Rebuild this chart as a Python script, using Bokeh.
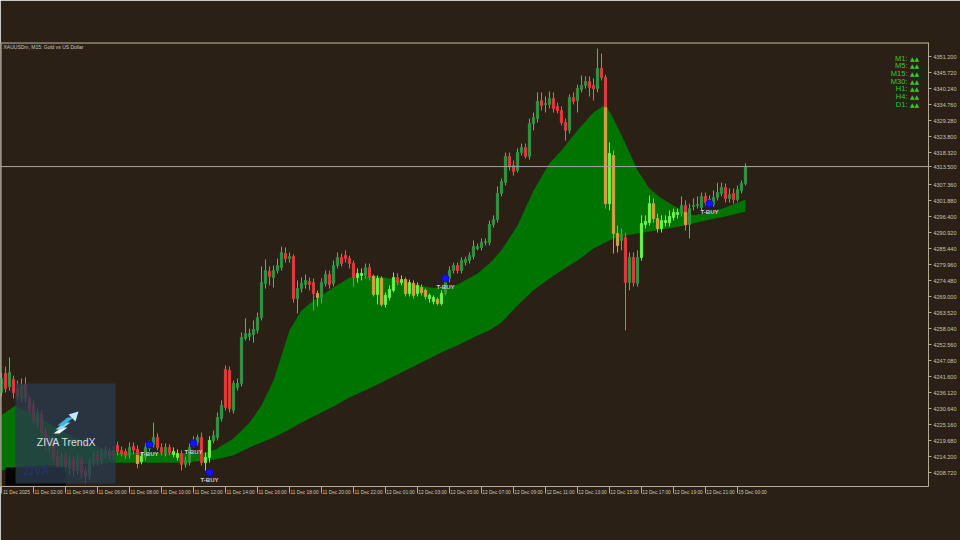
import numpy as np
from bokeh.plotting import figure
from bokeh.models import (ColumnDataSource, Range1d, LinearAxis, FixedTicker,
                          Span, Label, PrintfTickFormatter)
from bokeh.embed import file_html
from bokeh.resources import INLINE
from bokeh.core.properties import value

# ---------------- data ----------------
opens = [4236.1, 4242.6, 4238.2, 4240.6, 4237.5, 4234.1, 4238.9, 4234.1, 4231.7, 4225.8,
         4228.6, 4222.4, 4216.9, 4219.7, 4214.2, 4210.8, 4214.2, 4210.1, 4212.8, 4209.4,
         4213.5, 4209.4, 4207.4, 4212.1, 4214.6, 4212.8, 4214.9, 4215.9, 4214.2, 4218.0,
         4216.3, 4215.9, 4214.6, 4217.6, 4216.6, 4212.5, 4213.9, 4216.9, 4218.3, 4220.7,
         4217.3, 4215.2, 4217.3, 4214.9, 4213.9, 4215.2, 4211.5, 4212.1, 4218.3, 4219.0,
         4220.7, 4212.1, 4213.9, 4219.7, 4220.7, 4227.2, 4244.0, 4243.7, 4230.0, 4237.8,
         4239.2, 4254.6, 4255.3, 4256.0, 4257.4, 4261.8, 4273.5, 4277.6, 4275.5, 4277.9,
         4278.9, 4283.7, 4282.0, 4282.7, 4268.3, 4271.7, 4273.1, 4274.1, 4273.8, 4270.0,
         4268.7, 4273.5, 4276.5, 4273.5, 4279.6, 4282.4, 4283.0, 4282.0, 4280.3, 4275.5,
         4276.2, 4276.2, 4278.9, 4275.9, 4269.7, 4275.2, 4266.3, 4268.7, 4271.1, 4275.5,
         4273.8, 4274.8, 4270.0, 4273.5, 4270.0, 4272.1, 4271.1, 4268.3, 4267.3, 4268.0,
         4266.6, 4270.0, 4275.2, 4277.9, 4279.6, 4277.9, 4280.6, 4281.3, 4282.7, 4285.4,
         4285.8, 4287.5, 4287.5, 4293.7, 4295.4, 4304.3, 4308.0, 4317.0, 4313.9, 4312.2,
         4318.3, 4320.0, 4317.0, 4328.2, 4329.9, 4336.1, 4334.8, 4334.8, 4336.8, 4334.1,
         4332.7, 4328.6, 4325.9, 4337.2, 4336.1, 4339.9, 4341.3, 4342.6, 4341.3, 4340.2,
         4347.1, 4344.0, 4300.8, 4317.3, 4290.6, 4288.2, 4289.2, 4273.8, 4282.4, 4273.5,
         4282.4, 4293.7, 4294.3, 4300.8, 4295.7, 4292.3, 4294.3, 4294.3, 4296.1, 4297.1,
         4297.4, 4300.2, 4293.7, 4299.8, 4300.2, 4299.5, 4303.3, 4301.2, 4300.5, 4302.9,
         4304.3, 4306.3, 4302.6, 4304.3, 4302.2, 4305.3, 4307.7]
highs = [4243.0, 4245.0, 4248.1, 4241.9, 4240.2, 4240.9, 4241.3, 4235.1, 4233.4, 4230.6,
         4230.0, 4223.8, 4221.1, 4221.1, 4216.3, 4215.6, 4215.6, 4214.6, 4214.2, 4214.9,
         4214.6, 4210.8, 4213.5, 4216.3, 4216.3, 4216.9, 4217.6, 4217.3, 4217.6, 4219.3,
         4217.6, 4216.9, 4219.0, 4219.0, 4218.0, 4215.6, 4218.7, 4219.7, 4225.8, 4222.1,
         4218.7, 4218.7, 4218.3, 4217.3, 4216.6, 4216.3, 4214.2, 4218.7, 4221.1, 4221.7,
         4222.4, 4215.6, 4221.1, 4223.1, 4229.3, 4233.4, 4245.4, 4245.0, 4240.2, 4240.9,
         4256.7, 4261.5, 4258.0, 4260.8, 4263.5, 4279.3, 4281.7, 4279.3, 4279.6, 4282.0,
         4286.1, 4285.8, 4284.1, 4283.4, 4274.5, 4275.5, 4276.5, 4275.5, 4275.2, 4271.1,
         4275.2, 4277.9, 4277.9, 4281.3, 4284.1, 4283.7, 4284.8, 4283.0, 4281.3, 4278.6,
         4278.6, 4280.3, 4280.3, 4276.5, 4276.2, 4275.9, 4270.4, 4272.8, 4277.2, 4276.9,
         4276.2, 4275.5, 4274.8, 4274.5, 4273.8, 4273.1, 4271.7, 4270.0, 4269.4, 4268.7,
         4271.1, 4276.2, 4279.3, 4280.6, 4280.6, 4282.4, 4282.7, 4284.1, 4288.2, 4287.1,
         4288.9, 4288.9, 4295.0, 4296.8, 4306.7, 4309.4, 4318.3, 4318.3, 4315.6, 4319.7,
         4321.4, 4321.4, 4329.9, 4332.0, 4338.9, 4338.9, 4337.5, 4339.2, 4338.9, 4335.4,
         4334.1, 4329.9, 4338.2, 4338.9, 4341.6, 4344.7, 4344.4, 4344.4, 4343.7, 4353.9,
         4352.2, 4345.0, 4321.8, 4319.0, 4293.3, 4292.3, 4290.6, 4284.1, 4284.1, 4284.8,
         4296.8, 4296.8, 4303.6, 4302.6, 4297.4, 4296.8, 4296.8, 4298.5, 4299.1, 4299.1,
         4303.3, 4301.9, 4300.8, 4302.6, 4303.3, 4304.6, 4304.6, 4303.6, 4305.3, 4308.0,
         4308.0, 4307.7, 4306.0, 4306.0, 4307.0, 4308.7, 4314.6]
lows = [4234.8, 4236.1, 4236.8, 4234.1, 4233.4, 4232.7, 4232.7, 4228.6, 4225.2, 4223.8,
        4221.1, 4216.3, 4215.6, 4212.1, 4209.4, 4209.4, 4208.7, 4208.0, 4207.4, 4208.0,
        4206.7, 4205.0, 4206.0, 4210.8, 4211.1, 4211.5, 4213.5, 4213.2, 4212.8, 4214.6,
        4214.2, 4213.5, 4213.5, 4214.9, 4210.1, 4211.5, 4212.8, 4215.9, 4217.3, 4216.3,
        4214.6, 4214.2, 4214.6, 4213.9, 4212.8, 4209.4, 4210.4, 4211.1, 4217.3, 4218.0,
        4211.1, 4209.4, 4212.1, 4218.7, 4219.7, 4226.2, 4230.0, 4229.3, 4228.9, 4236.8,
        4238.2, 4253.9, 4253.9, 4253.2, 4256.3, 4260.8, 4271.7, 4272.8, 4272.1, 4276.9,
        4277.9, 4280.6, 4280.6, 4266.9, 4263.2, 4270.4, 4271.7, 4271.1, 4264.2, 4265.6,
        4266.6, 4272.4, 4271.7, 4272.4, 4278.6, 4279.3, 4280.6, 4278.6, 4272.4, 4273.8,
        4274.5, 4275.2, 4274.5, 4269.0, 4266.3, 4265.6, 4265.2, 4267.6, 4270.4, 4272.8,
        4272.8, 4269.0, 4269.0, 4268.3, 4269.0, 4269.4, 4268.0, 4266.9, 4266.3, 4265.9,
        4265.9, 4269.4, 4273.8, 4276.9, 4276.9, 4276.9, 4279.6, 4280.3, 4281.7, 4284.8,
        4284.8, 4286.5, 4286.5, 4292.6, 4294.3, 4303.3, 4307.0, 4312.2, 4310.4, 4311.5,
        4317.3, 4316.3, 4315.9, 4325.9, 4328.6, 4332.7, 4332.0, 4333.4, 4332.0, 4331.7,
        4327.6, 4322.4, 4324.8, 4334.8, 4332.0, 4338.9, 4340.2, 4337.5, 4336.1, 4338.9,
        4343.0, 4299.1, 4298.5, 4283.7, 4284.1, 4284.8, 4257.4, 4271.1, 4272.4, 4272.4,
        4281.3, 4292.3, 4293.3, 4294.3, 4290.9, 4290.9, 4293.0, 4293.0, 4295.0, 4295.7,
        4296.4, 4291.6, 4288.9, 4298.5, 4299.1, 4298.5, 4300.2, 4300.5, 4299.8, 4301.9,
        4303.3, 4301.2, 4301.2, 4300.8, 4301.5, 4304.3, 4307.0]
closes = [4240.9, 4237.5, 4243.0, 4236.1, 4234.8, 4238.5, 4234.1, 4230.0, 4226.5, 4229.3,
          4222.4, 4218.0, 4219.7, 4213.5, 4211.1, 4214.2, 4210.8, 4212.8, 4209.4, 4213.5,
          4208.7, 4207.4, 4212.1, 4214.6, 4212.8, 4215.6, 4216.3, 4214.6, 4216.3, 4215.9,
          4215.2, 4214.6, 4217.3, 4216.3, 4211.8, 4214.2, 4217.3, 4218.0, 4220.7, 4217.3,
          4215.6, 4217.3, 4215.6, 4215.9, 4215.2, 4211.5, 4212.8, 4217.3, 4219.7, 4220.7,
          4212.1, 4213.9, 4219.7, 4221.4, 4227.6, 4231.7, 4231.0, 4230.6, 4239.2, 4239.2,
          4255.0, 4256.3, 4256.3, 4257.7, 4261.8, 4273.8, 4277.9, 4275.9, 4277.9, 4279.6,
          4284.1, 4282.0, 4282.7, 4268.3, 4271.7, 4273.5, 4274.5, 4273.1, 4270.0, 4268.7,
          4273.8, 4276.5, 4273.1, 4279.6, 4282.4, 4280.3, 4282.0, 4280.3, 4275.5, 4276.9,
          4276.9, 4278.9, 4275.5, 4269.7, 4275.2, 4266.3, 4269.4, 4271.4, 4275.5, 4273.8,
          4274.8, 4270.0, 4273.8, 4269.4, 4272.8, 4270.4, 4269.0, 4269.4, 4268.7, 4266.6,
          4270.0, 4273.8, 4277.9, 4279.6, 4277.9, 4281.3, 4281.7, 4283.0, 4286.1, 4286.1,
          4287.5, 4287.8, 4293.7, 4295.4, 4304.3, 4308.4, 4317.0, 4313.5, 4311.8, 4318.3,
          4320.0, 4317.0, 4328.2, 4330.3, 4335.8, 4334.4, 4335.1, 4336.8, 4333.4, 4332.7,
          4328.6, 4325.9, 4337.2, 4335.8, 4340.2, 4341.3, 4342.6, 4340.6, 4340.2, 4347.1,
          4344.0, 4300.8, 4318.0, 4290.6, 4286.5, 4290.2, 4273.8, 4282.4, 4273.8, 4282.4,
          4294.0, 4294.7, 4300.8, 4295.7, 4292.3, 4295.0, 4295.0, 4296.4, 4297.8, 4297.8,
          4300.2, 4293.7, 4299.1, 4300.2, 4300.5, 4303.3, 4301.2, 4302.2, 4302.9, 4304.6,
          4306.3, 4302.6, 4303.9, 4302.2, 4305.6, 4307.7, 4313.5]
# candle colour class: g bull, r bear, G bull highlighted, Y bear highlighted
kinds = ("grgrrgrrrg" "rrgrrgrgrg" "rrggrggrgr" "rrgrrGgggr" "rgrGGrgggg"
         "rGGgggrrgg" "gggggggrgg" "grgrgggrrY" "ggrggrrrrG" "GgrYGYGGGr"
         "GYGYGYYGGY" "Ggggrggggg" "gggggggrrg" "grgggrggrr" "rrgrgggrrg"
         "rrGYYgrgrg" "GGGYYGGGGG" "grggggrggg" "grgrggg")
# bear candles whose lower part is highlighted (bar, price where colour changes)
split_bars = [34, 151, 171]
split_prices = [4214.6, 4333.7, 4297.8]

# filled band between the two moving averages
band_bar = [0, 3.5, 10, 17, 25, 29, 37, 45, 51, 53.5, 58, 62, 65, 68, 70, 72, 75, 78, 83, 87,
            93, 97, 102, 107, 111, 114, 119, 122, 125, 129, 133, 137, 140, 144, 148, 151, 153,
            156, 159, 162, 165, 168, 171, 173, 176, 181, 186]
band_upper = [4228.3, 4231.7, 4227.2, 4221.4, 4216.9, 4215.6, 4215.6, 4215.2, 4215.6, 4216.6,
              4220.4, 4225.8, 4231.7, 4240.2, 4248.8, 4257.4, 4264.2, 4267.6, 4272.1, 4275.5,
              4276.2, 4275.2, 4273.5, 4272.1, 4271.7, 4273.1, 4276.9, 4280.3, 4284.8, 4293.3,
              4305.3, 4314.6, 4319.0, 4325.9, 4332.0, 4334.8, 4329.9, 4321.4, 4312.2, 4306.0,
              4302.6, 4300.2, 4297.8, 4296.8, 4297.4, 4299.5, 4302.2]
band_lower = [4209.4, 4210.4, 4211.1, 4211.5, 4211.8, 4212.1, 4212.1, 4212.1, 4212.8, 4213.2,
              4214.6, 4217.3, 4219.0, 4220.7, 4222.1, 4223.5, 4225.8, 4227.9, 4231.3, 4234.4,
              4238.2, 4240.9, 4244.3, 4247.8, 4250.5, 4252.2, 4255.6, 4257.4, 4260.1, 4265.9,
              4271.1, 4275.2, 4277.9, 4281.3, 4285.4, 4287.5, 4288.9, 4289.9, 4290.6, 4291.3,
              4291.9, 4292.6, 4293.3, 4294.0, 4295.0, 4296.4, 4298.1]

# T-BUY signals
buy_bars = [37, 48, 52, 111, 177]
buy_dot = [4218.3, 4218.7, 4208.7, 4275.2, 4300.8]
buy_text_y = [4215.2, 4215.9, 4206.0, 4272.4, 4297.8]

bid = 4313.5

price_ticks = [4208.72, 4214.20, 4219.68, 4225.16, 4230.64, 4236.12, 4241.60, 4247.08,
               4252.56, 4258.04, 4263.52, 4269.00, 4274.48, 4279.96, 4285.44, 4290.92,
               4296.40, 4301.88, 4307.36, 4318.32, 4323.80, 4329.28, 4334.76, 4340.24,
               4345.72, 4351.20]
time_tick_bars = [0, 8, 16, 24, 32, 40, 48, 56, 64, 72, 80, 88, 96, 104, 112, 120, 128,
                  136, 144, 152, 160, 168, 176, 184]
time_labels = ["11 Dec 2025", "11 Dec 02:00", "11 Dec 04:00", "11 Dec 06:00", "11 Dec 08:00",
               "11 Dec 10:00", "11 Dec 12:00", "11 Dec 14:00", "11 Dec 16:00", "11 Dec 18:00",
               "11 Dec 20:00", "11 Dec 22:00", "12 Dec 01:00", "12 Dec 03:00", "12 Dec 05:00",
               "12 Dec 07:00", "12 Dec 09:00", "12 Dec 11:00", "12 Dec 13:00", "12 Dec 15:00",
               "12 Dec 17:00", "12 Dec 19:00", "12 Dec 21:00", "15 Dec 00:00"]
tf_labels = ["M1:", "M5:", "M15:", "M30:", "H1:", "H4:", "D1:"]

# ---------------- styling / layout ----------------
BG = "#2b2016"
AX = "#b5aa95"
TXT = "#cfc6b3"
FONT = "Liberation Sans"
COL = {"g": "#2f943f", "r": "#e23b3b", "G": "#6cf24c", "Y": "#d4a23c"}
WICK = {"g": "#7f9a7c", "r": "#b07a6c", "G": "#86e06a", "Y": "#c0a060"}

# pixel helpers for decorations (frame spans px x 0..928, y 42..486)
def bx(rx):
    return (rx - 1) / 4.0

def py(ry):
    return 4370.38 - 0.3425 * ry

p = figure(frame_width=928, frame_height=444,
           x_range=Range1d(bx(0), bx(928)), y_range=Range1d(py(486), py(42)),
           output_backend="svg", toolbar_location=None,
           x_axis_location=None, y_axis_location=None,
           min_border_left=0, min_border_top=42, min_border_right=32, min_border_bottom=54,
           background_fill_color=BG, border_fill_color=BG)
p.grid.visible = False
p.outline_line_color = None

# band
p.varea(x=band_bar, y1=band_lower, y2=band_upper, fill_color="#007400", fill_alpha=1.0)

# candles
n = len(opens)
idx = list(range(n))
top = [max(o, c) for o, c in zip(opens, closes)]
bot = [min(o, c) for o, c in zip(opens, closes)]
src = ColumnDataSource(dict(x=idx, top=top, bot=bot, hi=highs, lo=lows,
                            fc=[COL[k] for k in kinds], wc=[WICK[k] for k in kinds]))
p.segment(x0="x", y0="lo", x1="x", y1="hi", source=src, line_color="wc", line_width=1)
p.vbar(x="x", top="top", bottom="bot", width=0.55, source=src,
       fill_color="fc", line_color="fc", line_width=1)
p.vbar(x=split_bars, top=split_prices, bottom=[bot[b] for b in split_bars], width=0.55,
       fill_color=COL["Y"], line_color=COL["Y"], line_width=1)

# bid line, frame lines
p.add_layout(Span(location=bid, dimension="width", line_color="#a4a4a4", line_width=1))
p.add_layout(Span(location=py(42.6), dimension="width", line_color=AX, line_width=1))
p.add_layout(Span(location=bx(0.6), dimension="height", line_color=AX, line_width=1))

# T-BUY signals
p.scatter(x=buy_bars, y=buy_dot, marker="circle", size=7, fill_color="#1414ff",
          line_color="#0a0ad0")
p.text(x=buy_bars, y=buy_text_y, text=["T-BUY"] * len(buy_bars), text_align="center",
       text_baseline="middle", text_font=value(FONT), text_font_size="6px",
       text_font_style="bold", text_color="#d0d0d0")

# title
p.add_layout(Label(x=bx(3), y=py(46.5), text="XAUUSDm, M15: Gold vs US Dollar",
                   text_align="left", text_baseline="middle", text_font=FONT,
                   text_font_size="5px", text_color=TXT))

# trend panel (top right)
rows_y = [py(57.7 + 7.67 * k) for k in range(len(tf_labels))]
p.text(x=[bx(907)] * len(tf_labels), y=rows_y, text=tf_labels, text_align="right",
       text_baseline="middle", text_font=value(FONT), text_font_size="7.5px",
       text_color="#31c931")
p.text(x=[bx(909.5)] * len(tf_labels), y=rows_y, text=["\u25b2\u25b2"] * len(tf_labels),
       text_align="left", text_baseline="middle", text_font=value("DejaVu Sans"),
       text_font_size="6px", text_color="#31c931")

# logo box (bottom left)
p.quad(left=[bx(5)], right=[bx(65)], top=[py(467)], bottom=[py(485)],
       fill_color="#050505", line_color=None)
p.quad(left=[bx(15)], right=[bx(115)], top=[py(383)], bottom=[py(483)],
       fill_color="#2a3a4e", fill_alpha=0.78, line_color=None)
p.text(x=[bx(36)], y=[py(470)], text=["ZIVA"], text_align="center", text_baseline="middle",
       text_font=value(FONT), text_font_size="12px", text_font_style="bold",
       text_color="#22335f")
p.text(x=[bx(66)], y=[py(441)], text=["ZIVA TrendX"], text_align="center",
       text_baseline="middle", text_font=value(FONT), text_font_size="10.5px",
       text_color="#d9dee3")
icon = [
    ([53, 59, 67, 61], [433, 433, 427, 427], "#e6f3f7"),
    ([55, 61, 70, 64], [429, 429, 422, 422], "#8fd6ee"),
    ([57, 63, 73, 67], [425, 425, 417, 417], "#3bb4df"),
    ([68, 78, 75], [414, 411, 421], "#bfeaf7"),
]
p.patches(xs=[[bx(v) for v in ix] for ix, iy, c in icon],
          ys=[[py(v) for v in iy] for ix, iy, c in icon],
          fill_color=[c for ix, iy, c in icon], line_color=None)

# axes (the bid price is shown as an extra label on the price axis)
yax = LinearAxis(ticker=FixedTicker(ticks=price_ticks + [bid]),
                 formatter=PrintfTickFormatter(format="%.3f"))
yax.axis_line_color = AX
yax.major_tick_line_color = AX
yax.major_tick_out = 3
yax.major_tick_in = 0
yax.minor_tick_line_color = None
yax.major_label_standoff = 2
yax.major_label_text_font = FONT
yax.major_label_text_font_size = "5.5px"
yax.major_label_text_color = TXT
p.add_layout(yax, "right")

centers = [b + 3.75 for b in time_tick_bars]
xax = LinearAxis(ticker=FixedTicker(ticks=centers, minor_ticks=time_tick_bars),
                 major_label_overrides={c: t for c, t in zip(centers, time_labels)})
xax.axis_line_color = AX
xax.major_tick_line_color = None
xax.major_tick_out = 0
xax.major_tick_in = 0
xax.minor_tick_line_color = AX
xax.minor_tick_out = 7
xax.minor_tick_in = 0
xax.major_label_standoff = -4
xax.major_label_text_font = FONT
xax.major_label_text_font_size = "4.8px"
xax.major_label_text_color = TXT
p.add_layout(xax, "below")

open("out.html", "w").write(file_html(p, INLINE))
